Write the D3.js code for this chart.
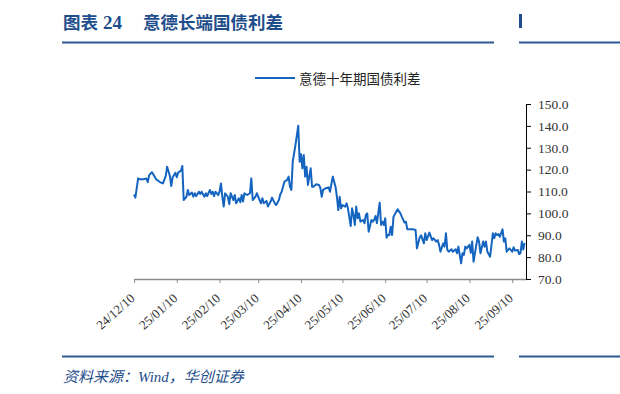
<!DOCTYPE html>
<html>
<head>
<meta charset="utf-8">
<script src="https://cdn.jsdelivr.net/npm/d3@7"></script>
<style>
    body { margin: 0; background: #fff; }
    svg { display: block; }
</style>
</head>
<body>
<svg id="chart" width="620" height="394"></svg>
<script>
// Daily spread, Italy 10y minus Germany 10y (bp)
const dates = [
    "2024-12-10", "2024-12-11", "2024-12-13", "2024-12-14", "2024-12-17", "2024-12-19", "2024-12-20", "2024-12-21",
    "2024-12-23", "2024-12-25", "2024-12-26", "2024-12-29", "2024-12-31",
    "2025-01-02", "2025-01-03", "2025-01-05", "2025-01-06", "2025-01-07", "2025-01-09", "2025-01-10", "2025-01-11",
    "2025-01-13", "2025-01-14", "2025-01-15", "2025-01-17", "2025-01-18", "2025-01-19", "2025-01-21", "2025-01-22",
    "2025-01-23", "2025-01-24", "2025-01-26", "2025-01-27", "2025-01-28", "2025-01-30", "2025-01-31",
    "2025-02-01", "2025-02-03", "2025-02-04", "2025-02-05", "2025-02-06", "2025-02-07", "2025-02-09", "2025-02-10",
    "2025-02-11", "2025-02-12", "2025-02-13", "2025-02-14", "2025-02-16", "2025-02-17", "2025-02-18", "2025-02-20",
    "2025-02-21", "2025-02-22", "2025-02-24", "2025-02-25", "2025-02-26", "2025-02-27", "2025-02-28",
    "2025-03-02", "2025-03-04", "2025-03-05", "2025-03-06", "2025-03-08", "2025-03-09", "2025-03-11", "2025-03-12",
    "2025-03-13", "2025-03-14", "2025-03-16", "2025-03-17", "2025-03-19", "2025-03-20", "2025-03-22", "2025-03-23",
    "2025-03-25", "2025-03-26", "2025-03-27", "2025-03-28", "2025-03-29", "2025-03-31",
    "2025-04-01", "2025-04-02", "2025-04-03", "2025-04-04", "2025-04-06", "2025-04-08", "2025-04-09", "2025-04-10",
    "2025-04-11", "2025-04-12", "2025-04-13", "2025-04-14", "2025-04-15", "2025-04-17", "2025-04-18", "2025-04-19",
    "2025-04-21", "2025-04-23", "2025-04-24", "2025-04-25", "2025-04-26", "2025-04-28", "2025-04-30",
    "2025-05-01", "2025-05-03", "2025-05-05", "2025-05-06", "2025-05-07", "2025-05-08", "2025-05-09", "2025-05-10",
    "2025-05-12", "2025-05-13", "2025-05-14", "2025-05-16", "2025-05-17", "2025-05-18", "2025-05-19", "2025-05-20",
    "2025-05-21", "2025-05-22", "2025-05-23", "2025-05-25", "2025-05-26", "2025-05-27", "2025-05-28", "2025-05-29",
    "2025-05-31",
    "2025-06-01", "2025-06-02", "2025-06-03", "2025-06-04", "2025-06-06", "2025-06-07", "2025-06-08", "2025-06-09",
    "2025-06-10", "2025-06-11", "2025-06-12", "2025-06-13", "2025-06-14", "2025-06-15", "2025-06-16", "2025-06-19",
    "2025-06-21", "2025-06-22", "2025-06-24", "2025-06-25", "2025-06-26", "2025-06-28", "2025-06-30",
    "2025-07-02", "2025-07-03", "2025-07-05", "2025-07-06", "2025-07-08", "2025-07-09", "2025-07-10", "2025-07-12",
    "2025-07-14", "2025-07-15", "2025-07-17", "2025-07-18", "2025-07-19", "2025-07-20", "2025-07-22", "2025-07-23",
    "2025-07-24", "2025-07-25", "2025-07-26", "2025-07-28", "2025-07-29", "2025-07-31",
    "2025-08-01", "2025-08-02", "2025-08-04", "2025-08-05", "2025-08-06", "2025-08-07", "2025-08-08", "2025-08-10",
    "2025-08-11", "2025-08-12", "2025-08-13", "2025-08-15", "2025-08-16", "2025-08-17", "2025-08-18", "2025-08-20",
    "2025-08-21", "2025-08-22", "2025-08-23", "2025-08-25", "2025-08-26", "2025-08-27", "2025-08-28", "2025-08-29",
    "2025-08-30", "2025-08-31",
    "2025-09-01", "2025-09-03", "2025-09-04", "2025-09-05", "2025-09-06", "2025-09-07", "2025-09-08", "2025-09-10",
    "2025-09-11", "2025-09-12", "2025-09-14", "2025-09-15", "2025-09-16", "2025-09-17", "2025-09-18", "2025-09-19"
];

const spread = [
    108.7, 107.2, 116.0, 115.6, 115.6, 115.9, 114.3, 117.5,
    118.8, 116.8, 115.6, 114.2, 113.7,
    117.1, 121.3, 117.1, 112.5, 116.5, 118.6, 116.5, 118.6,
    119.5, 121.7, 106.1, 107.6, 110.7, 108.4, 109.5, 107.6,
    109.2, 107.9, 109.9, 108.9, 109.9, 107.6, 109.2,
    107.9, 110.7, 108.9, 109.9, 107.9, 109.9, 108.4, 109.9,
    113.7, 107.6, 103.1, 109.2, 107.6, 104.2, 109.2, 106.1,
    108.4, 104.6, 106.9, 105.1, 108.4, 105.4, 109.2,
    108.4, 109.2, 116.0, 106.1, 107.6, 109.2, 106.1, 104.6,
    106.9, 104.6, 105.7, 103.1, 105.4, 107.2, 104.6, 103.8,
    106.1, 108.7, 109.9, 112.2, 114.5, 115.3,
    116.8, 112.2, 110.7, 123.6, 131.3, 140.1, 123.6, 127.0,
    120.6, 126.7, 116.8, 121.3, 113.0, 120.6, 112.2, 112.2,
    113.3, 113.0, 111.7, 107.6, 110.7, 111.5, 111.9,
    109.9, 116.8, 112.2, 107.6, 101.5, 107.6, 102.3, 103.8,
    103.1, 104.6, 102.3, 94.2, 102.3, 99.3, 94.7, 103.1,
    97.8, 100.0, 96.2, 97.0, 95.5, 99.3, 100.0, 91.6,
    97.0,
    96.2, 97.0, 98.8, 95.5, 104.9, 94.7, 96.2, 94.7,
    97.8, 88.9, 90.1, 90.1, 93.9, 90.1, 98.5, 101.9,
    100.0, 98.5, 95.8, 96.2, 92.7, 92.7, 92.7,
    92.4, 84.0, 89.1, 90.0, 86.3, 90.9, 87.8, 91.2,
    87.8, 88.6, 87.1, 87.8, 85.6, 82.5, 86.3, 84.8,
    90.9, 83.3, 82.5, 83.6, 82.5, 83.6,
    81.8, 84.8, 77.2, 81.8, 81.0, 84.8, 84.0, 85.6,
    82.0, 87.1, 77.9, 85.6, 89.1, 87.1, 81.8, 87.1,
    84.8, 87.1, 82.5, 80.2, 85.6, 90.9, 88.6, 90.9,
    90.1, 90.5,
    89.3, 92.7, 87.1, 88.6, 82.5, 83.3, 84.0, 82.5,
    84.5, 83.0, 83.3, 81.4, 81.8, 87.1, 83.5, 86.5
];

const xTicks = ["2024-12-10", "2025-01-10", "2025-02-10", "2025-03-10", "2025-04-10",
    "2025-05-10", "2025-06-10", "2025-07-10", "2025-08-10", "2025-09-10"];
const yTicks = [70, 80, 90, 100, 110, 120, 130, 140, 150];
const seriesName = "意德十年期国债利差";

const navy = "#1f4e8c";
const lineBlue = "#1565c0";
const parse = d3.timeParse("%Y-%m-%d");

const svg = d3.select("#chart");

// Header and footer
svg.append("text")
    .attr("x", 63).attr("y", 29)
    .attr("fill", navy)
    .style("font", "bold 17.5px 'Noto Sans CJK SC'")
    .text("图表");
svg.append("text")
    .attr("x", 103).attr("y", 29)
    .attr("fill", navy)
    .style("font", "bold 19px 'Liberation Serif'")
    .text("24");
svg.append("text")
    .attr("x", 143).attr("y", 29)
    .attr("fill", navy)
    .style("font", "bold 17.5px 'Noto Sans CJK SC'")
    .text("意德长端国债利差");
svg.append("rect").attr("x", 519).attr("y", 14).attr("width", 3).attr("height", 14).attr("fill", navy);

[42.5, 356.5].forEach(function (yy) {
    svg.append("line").attr("x1", 62).attr("x2", 494).attr("y1", yy).attr("y2", yy)
        .attr("stroke", "#2a5a96").attr("stroke-width", 2);
    svg.append("line").attr("x1", 519).attr("x2", 620).attr("y1", yy).attr("y2", yy)
        .attr("stroke", "#2a5a96").attr("stroke-width", 2);
});

svg.append("text")
    .attr("x", 63).attr("y", 382)
    .attr("fill", navy)
    .style("font", "italic 15px 'Liberation Serif', 'Noto Sans CJK SC'")
    .text("资料来源：Wind，华创证券");

// Scales
const x = d3.scaleTime()
    .domain([parse("2024-12-10"), parse("2025-09-20")])
    .range([134, 526]);
const y = d3.scaleLinear().domain([70, 150]).range([279, 104]);

// X axis
const xAxis = svg.append("g")
    .attr("transform", "translate(0,279)")
    .call(d3.axisBottom(x)
        .tickValues(xTicks.map(parse))
        .tickFormat(d3.timeFormat("%y/%m/%d"))
        .tickSize(4)
        .tickSizeOuter(0));
xAxis.select(".domain").attr("stroke", "#8c8c8c").attr("stroke-width", 1.5);
xAxis.selectAll(".tick line").attr("stroke", "#8c8c8c");
xAxis.selectAll(".tick text")
    .attr("x", 0).attr("y", 0).attr("dy", "0.35em")
    .attr("text-anchor", "end")
    .attr("transform", "translate(-2,17) rotate(-42)")
    .attr("fill", "#333")
    .style("font", "13px 'Liberation Serif'");

// Y axis on the right
const yAxis = svg.append("g")
    .attr("transform", "translate(526,0)")
    .call(d3.axisRight(y)
        .tickValues(yTicks)
        .tickFormat(d3.format(".1f"))
        .tickSize(5)
        .tickPadding(7)
        .tickSizeOuter(0));
yAxis.select(".domain").attr("stroke", "#000");
yAxis.selectAll(".tick line").attr("stroke", "#000");
yAxis.selectAll(".tick text")
    .attr("fill", "#333")
    .style("font", "13.5px 'Liberation Serif'");

// Series line
const points = dates.map(function (d, i) {
    return { date: parse(d), value: spread[i] };
});
const line = d3.line()
    .x(function (d) { return x(d.date); })
    .y(function (d) { return y(d.value); });

svg.append("path")
    .datum(points)
    .attr("fill", "none")
    .attr("stroke", lineBlue)
    .attr("stroke-width", 2)
    .attr("stroke-linejoin", "round")
    .attr("d", line);

// Legend
svg.append("line")
    .attr("x1", 255).attr("x2", 295).attr("y1", 78).attr("y2", 78)
    .attr("stroke", lineBlue).attr("stroke-width", 2);
svg.append("text")
    .attr("x", 299).attr("y", 78)
    .attr("dominant-baseline", "central")
    .attr("fill", "#222")
    .style("font", "13.5px 'Noto Sans CJK SC'")
    .text(seriesName);
</script>
</body>
</html>
